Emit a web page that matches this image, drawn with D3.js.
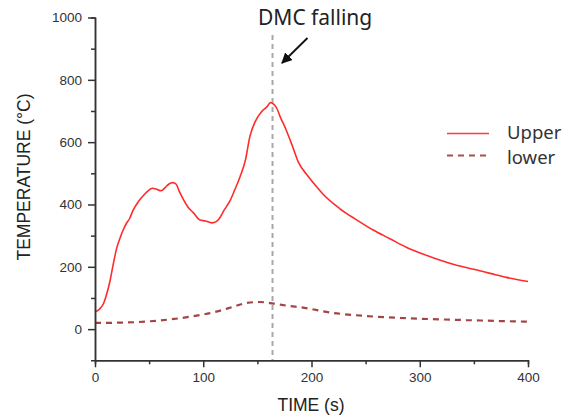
<!DOCTYPE html>
<html>
<head>
<meta charset="utf-8">
<script src="https://cdn.jsdelivr.net/npm/d3@7/dist/d3.min.js"></script>
<style>
  html, body { margin: 0; padding: 0; background: #fff; }
  svg { display: block; }
</style>
</head>
<body>
<svg id="chart" width="579" height="418"></svg>
<script>
// Temperature history (time in s, temperature in °C)
const upperTime = [0, 4, 8, 11, 14, 17, 20, 23, 26, 29, 32, 35, 40, 45, 49, 53, 57, 61, 65, 68, 72, 75, 78, 82, 86, 91, 97, 102, 108, 112, 115, 119, 125, 129, 134, 139, 143, 148, 154, 159, 162, 165, 168, 171, 176, 182, 188, 197, 206, 211, 226, 242, 257, 272, 288, 303, 319, 334, 350, 365, 380, 400];
const upperTemp = [55, 64, 83, 115, 157, 211, 259, 291, 318, 339, 355, 380, 409, 430, 444, 452, 449, 444, 455, 465, 470, 465, 441, 414, 391, 373, 350, 347, 341, 345, 356, 380, 414, 446, 489, 543, 617, 666, 698, 714, 727, 722, 708, 682, 644, 591, 535, 490, 452, 432, 387, 350, 318, 291, 262, 241, 221, 205, 192, 179, 166, 153];

const lowerTime = [0, 26, 57, 88, 112, 128, 140, 152, 165, 180, 190, 220, 251, 282, 312, 343, 374, 400];
const lowerTemp = [20, 21, 27, 40, 56, 72, 84, 87, 82, 74, 70, 52, 42, 36, 32, 29, 26, 24];

const xMajorTicks = [0, 100, 200, 300, 400];
const xMinorTicks = [50, 150, 250, 350];
const yMajorTicks = [0, 200, 400, 600, 800, 1000];
const yMinorTicks = [100, 300, 500, 700, 900];

const markerTime = 164;
const seriesNames = ["Upper", "lower"];
const annotation = "DMC falling";

const svg = d3.select("#chart");

const x = d3.scaleLinear().domain([0, 400]).range([95, 528]);
const y = d3.scaleLinear().domain([-100, 1000]).range([360.3, 17.5]);

const upper = upperTime.map((t, i) => ({ t, v: upperTemp[i] }));
const lower = lowerTime.map((t, i) => ({ t, v: lowerTemp[i] }));

const axisColor = "#333";
const tickFont = "'Liberation Sans', Arial, sans-serif";

// Marker line at the moment the DMC falls
svg.append("line")
  .attr("x1", x(markerTime)).attr("x2", x(markerTime))
  .attr("y1", 35).attr("y2", y(-100))
  .attr("stroke", "#a8a8a8").attr("stroke-width", 2)
  .attr("stroke-dasharray", "5,4");

const line = d3.line()
  .x(d => x(d.t)).y(d => y(d.v))
  .curve(d3.curveMonotoneX);

svg.append("path").datum(lower)
  .attr("d", line)
  .attr("fill", "none")
  .attr("stroke", "#a34545")
  .attr("stroke-width", 2.2)
  .attr("stroke-dasharray", "6,5");

svg.append("path").datum(upper)
  .attr("d", line)
  .attr("fill", "none")
  .attr("stroke", "#ff2b2b")
  .attr("stroke-width", 1.6);

// Axes
function styleAxis(g) {
  g.select(".domain").attr("stroke", axisColor).attr("stroke-width", 1.5);
  g.selectAll(".tick line").attr("stroke", axisColor).attr("stroke-width", 1.5);
  g.selectAll(".tick text")
    .attr("fill", "#333")
    .style("font-family", tickFont)
    .style("font-size", "13.5px");
}

svg.append("g")
  .attr("transform", `translate(0,${y(-100)})`)
  .call(d3.axisBottom(x).tickValues(xMinorTicks).tickSize(4).tickFormat(""))
  .call(styleAxis);

svg.append("g")
  .attr("transform", `translate(0,${y(-100)})`)
  .call(d3.axisBottom(x).tickValues(xMajorTicks).tickSizeInner(7).tickSizeOuter(0).tickPadding(5).tickFormat(d3.format("d")))
  .call(styleAxis);

svg.append("g")
  .attr("transform", `translate(${x(0)},0)`)
  .call(d3.axisLeft(y).tickValues(yMinorTicks).tickSize(4).tickFormat(""))
  .call(styleAxis);

svg.append("g")
  .attr("transform", `translate(${x(0)},0)`)
  .call(d3.axisLeft(y).tickValues(yMajorTicks).tickSizeInner(7).tickSizeOuter(0).tickPadding(6).tickFormat(d3.format("d")))
  .call(styleAxis);

// Axis titles
svg.append("text")
  .attr("x", 311).attr("y", 411)
  .attr("text-anchor", "middle")
  .attr("fill", "#222")
  .style("font-family", tickFont)
  .style("font-size", "17.5px")
  .text("TIME (s)");

svg.append("text")
  .attr("transform", "translate(30,177) rotate(-90)")
  .attr("text-anchor", "middle")
  .attr("fill", "#222")
  .style("font-family", tickFont)
  .style("font-size", "17.5px")
  .text("TEMPERATURE (°C)");

// Annotation with arrow
const defs = svg.append("defs");
defs.append("marker")
  .attr("id", "arrowHead")
  .attr("viewBox", "0 0 10 10")
  .attr("refX", 9).attr("refY", 5)
  .attr("markerWidth", 6).attr("markerHeight", 6)
  .attr("markerUnits", "strokeWidth")
  .attr("orient", "auto")
  .append("path").attr("d", "M0,0 L10,5 L0,10 z").attr("fill", "#111");

svg.append("line")
  .attr("x1", 307.5).attr("y1", 38)
  .attr("x2", 282).attr("y2", 63)
  .attr("stroke", "#111").attr("stroke-width", 1.8)
  .attr("marker-end", "url(#arrowHead)");

svg.append("text")
  .attr("x", 258).attr("y", 25)
  .attr("fill", "#222")
  .style("font-family", "'Noto Sans', sans-serif")
  .style("font-size", "21px")
  .text(annotation);

// Legend
const legend = svg.append("g");
const legendRows = [
  { name: seriesNames[0], yLine: 133.5, yText: 139, color: "#ff3b3b", dash: null, w: 1.6 },
  { name: seriesNames[1], yLine: 155.5, yText: 164, color: "#a65050", dash: "6,5", w: 2 }
];
legendRows.forEach(r => {
  legend.append("line")
    .attr("x1", 447).attr("x2", 489)
    .attr("y1", r.yLine).attr("y2", r.yLine)
    .attr("stroke", r.color).attr("stroke-width", r.w)
    .attr("stroke-dasharray", r.dash);
  legend.append("text")
    .attr("x", 507).attr("y", r.yText)
    .attr("fill", "#333")
    .style("font-family", "'Noto Sans', sans-serif")
    .style("font-size", "18.5px")
    .text(r.name);
});
</script>
</body>
</html>
